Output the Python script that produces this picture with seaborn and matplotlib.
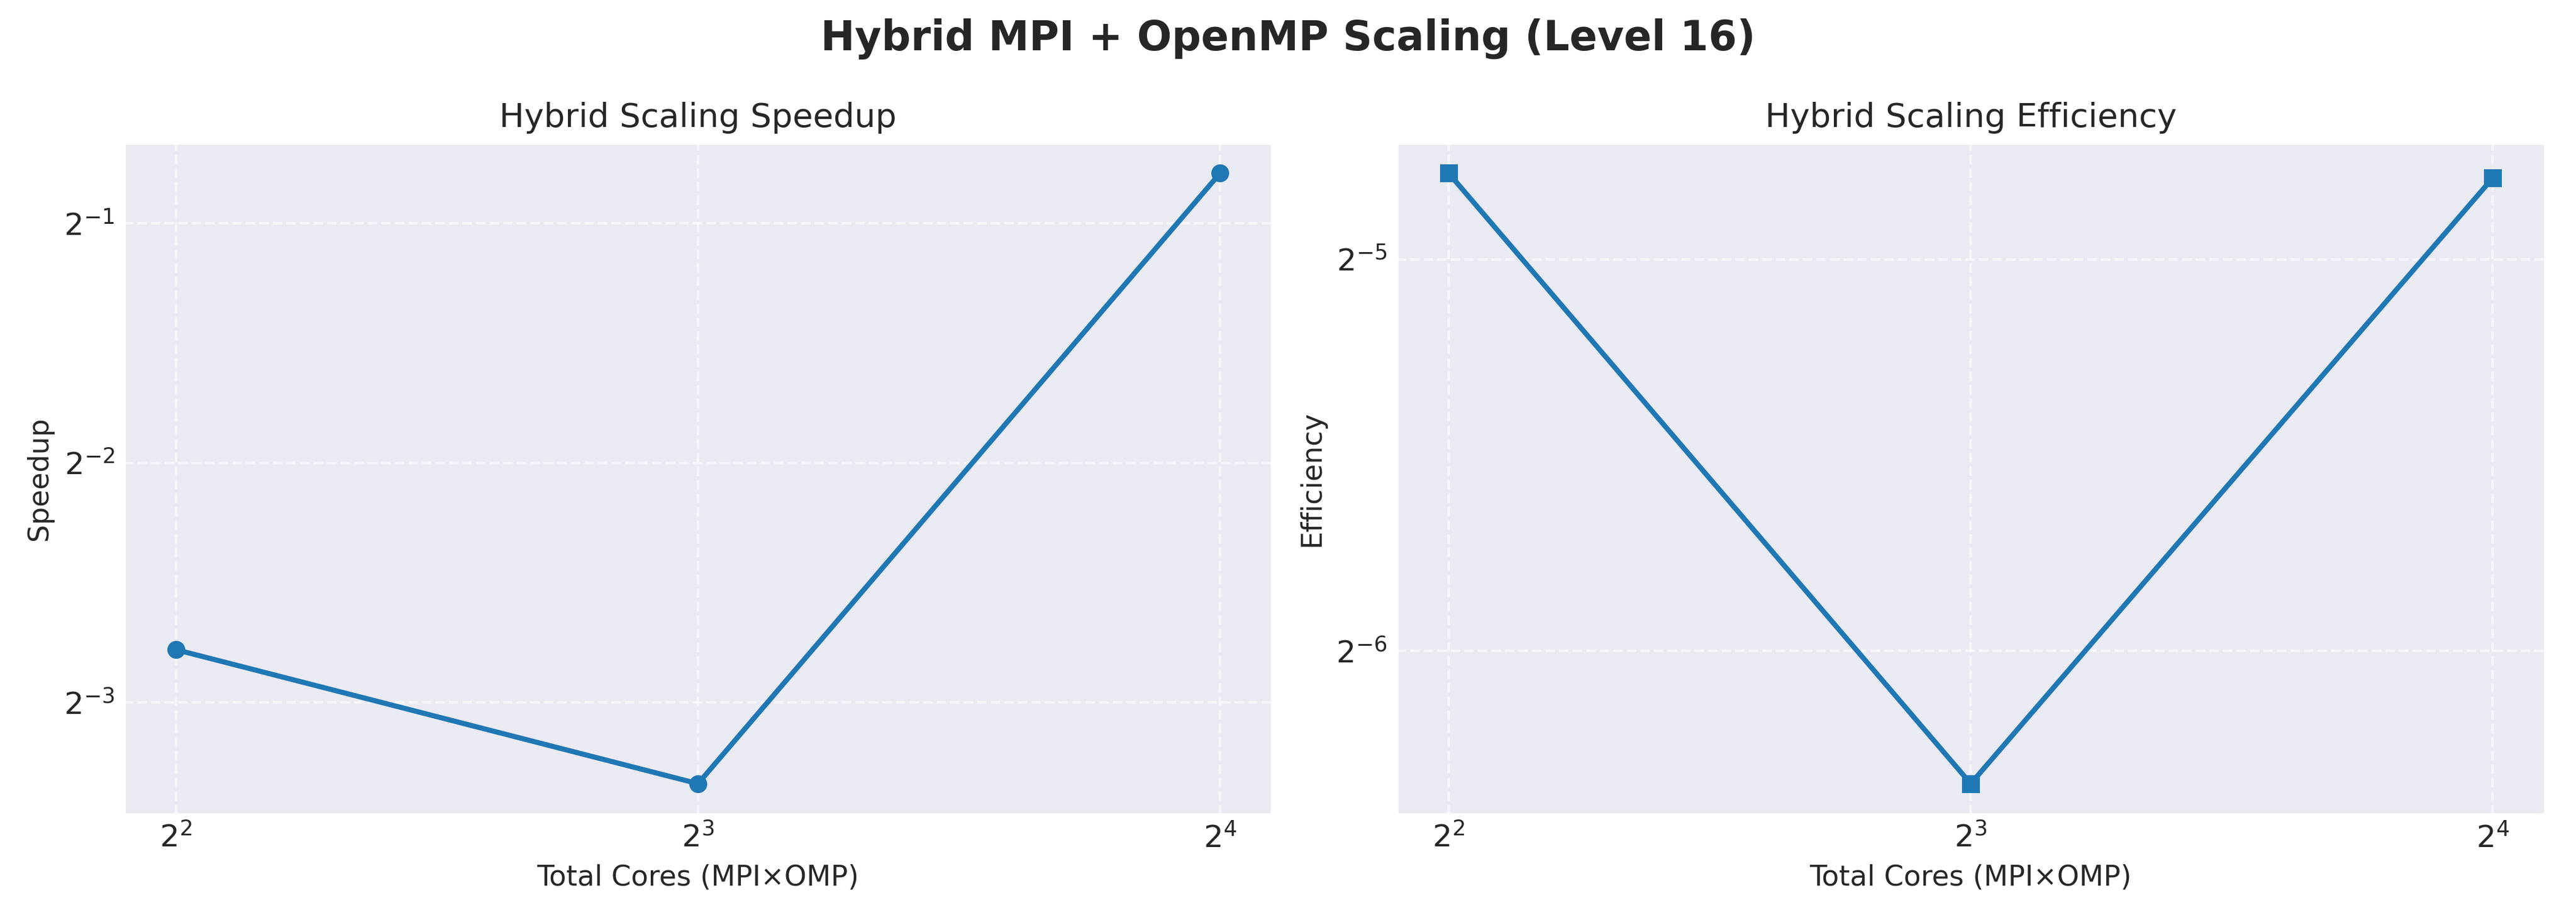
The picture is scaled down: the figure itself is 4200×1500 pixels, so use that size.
import numpy as np
import pandas as pd
import matplotlib
matplotlib.use("Agg")
import matplotlib.pyplot as plt
import seaborn as sns

# Values
total_cores = [4, 8, 16]
speedup = [0.1456, 0.0988, 0.578]
efficiency = [0.0364, 0.01235, 0.0361]

data = pd.DataFrame({'cores': total_cores, 'speedup': speedup, 'efficiency': efficiency})

sns.set_theme(style='darkgrid')
plt.rcParams['font.family'] = ['DejaVu Sans']
plt.rcParams['grid.linestyle'] = '--'
plt.rcParams['grid.alpha'] = 0.6

fig, axes = plt.subplots(1, 2, figsize=(14, 5), dpi=300)

ax = axes[0]
sns.lineplot(x='cores', y='speedup', data=data, marker='o', markersize=6,
             linewidth=2, color='#1f77b4', markeredgecolor='#1f77b4',
             markeredgewidth=1, ax=ax)
ax.set_xscale('log', base=2)
ax.set_yscale('log', base=2)
ax.set_title('Hybrid Scaling Speedup', fontsize=13)
ax.set_xlabel('Total Cores (MPI×OMP)', fontsize=11)
ax.set_ylabel('Speedup', fontsize=11)
ax.tick_params(labelsize=12, length=0, pad=3.5)

ax = axes[1]
sns.lineplot(x='cores', y='efficiency', data=data, marker='s', markersize=6,
             linewidth=2, color='#1f77b4', markeredgecolor='#1f77b4',
             markeredgewidth=1, ax=ax)
ax.set_xscale('log', base=2)
ax.set_yscale('log', base=2)
ax.set_title('Hybrid Scaling Efficiency', fontsize=13)
ax.set_xlabel('Total Cores (MPI×OMP)', fontsize=11)
ax.set_ylabel('Efficiency', fontsize=11)
ax.tick_params(labelsize=12, length=0, pad=3.5)

fig.suptitle('Hybrid MPI + OpenMP Scaling (Level 16)', fontsize=16, fontweight='bold')
fig.subplots_adjust(left=0.048, right=0.988, bottom=0.115, top=0.845, wspace=0.108)
plt.savefig('out.png', dpi=300)
